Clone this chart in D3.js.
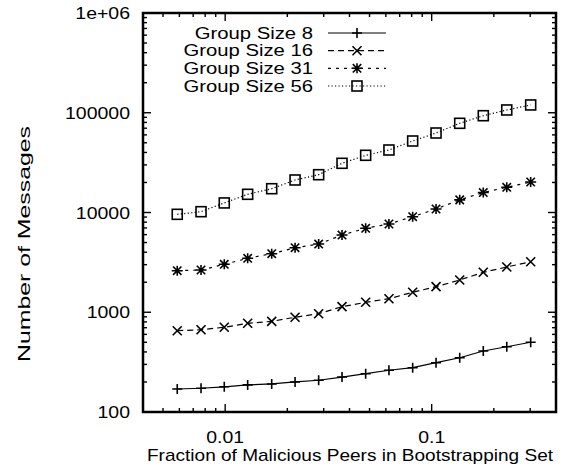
<!DOCTYPE html>
<html><head><meta charset="utf-8">
<script src="https://cdn.jsdelivr.net/npm/d3@7"></script>
<style>
html,body{margin:0;padding:0;background:#fff;}
svg{display:block;}
text{font-family:"Liberation Sans",Arial,Helvetica,sans-serif;fill:#000;}
</style></head>
<body>
<svg id="chart" width="578" height="470"></svg>
<script>
const fractions = [0.00586,0.00764,0.0099,0.01285,0.0168,0.0218,0.02836,0.0368,0.0479,0.0621,0.0809,0.105,0.1367,0.1778,0.231,0.3016];
const group8  = [170,173,179,187,191,200,208,224,242,262,278,312,350,409,451,500];
const group16 = [653,668,707,775,811,890,967,1137,1258,1367,1585,1804,2106,2515,2842,3212];
const group31 = [2610,2652,3025,3474,3863,4437,4831,5946,6944,7668,9078,10842,13385,15850,17890,20220];
const group56 = [9590,10190,12470,15220,17320,21180,23930,31130,37450,42320,52100,62660,78380,93400,106600,119700];
const seriesNames = ["Group Size 8","Group Size 16","Group Size 31","Group Size 56"];
const xTickLabels = ["0.01","0.1"];
const yTickLabels = ["100","1000","10000","100000","1e+06"];

const svg = d3.select("#chart");
const L=143, R=556, T=13, B=412;
const x = d3.scaleLog().domain([0.004,0.4]).range([L,R]);
const y = d3.scaleLog().domain([100,1e6]).range([B,T]);

function stretch(sel, factor){
  sel.each(function(){
    const w = this.getComputedTextLength();
    d3.select(this).attr("textLength", w*factor).attr("lengthAdjust","spacingAndGlyphs");
  });
}

const series = [
  {name:seriesNames[0], vals:group8,  dash:null,     marker:"plus"},
  {name:seriesNames[1], vals:group16, dash:"6,4",    marker:"cross"},
  {name:seriesNames[2], vals:group31, dash:"3,5",    marker:"star"},
  {name:seriesNames[3], vals:group56, dash:"1.2,2.3",marker:"box"}
];

const xMajor = [0.01,0.1];
const xMinor = [];
[0.001,0.01,0.1].forEach(d=>{for(let k=2;k<=9;k++){const v=d*k; if(v>=0.004&&v<=0.4) xMinor.push(v);}});
const yMajor = [100,1000,10000,100000,1e6];
const yMinor = [];
[100,1000,10000,100000].forEach(d=>{for(let k=2;k<=9;k++) yMinor.push(d*k);});

const tk = svg.append("g").attr("stroke","#000").attr("stroke-width",1.4);
xMinor.forEach(v=>{
  tk.append("line").attr("x1",x(v)).attr("x2",x(v)).attr("y1",B).attr("y2",B-4);
  tk.append("line").attr("x1",x(v)).attr("x2",x(v)).attr("y1",T).attr("y2",T+4);
});
xMajor.forEach(v=>{
  tk.append("line").attr("x1",x(v)).attr("x2",x(v)).attr("y1",B).attr("y2",B-8);
  tk.append("line").attr("x1",x(v)).attr("x2",x(v)).attr("y1",T).attr("y2",T+8);
});
yMinor.forEach(v=>{
  tk.append("line").attr("y1",y(v)).attr("y2",y(v)).attr("x1",L).attr("x2",L+4);
  tk.append("line").attr("y1",y(v)).attr("y2",y(v)).attr("x1",R).attr("x2",R-4);
});
yMajor.forEach(v=>{
  tk.append("line").attr("y1",y(v)).attr("y2",y(v)).attr("x1",L).attr("x2",L+8);
  tk.append("line").attr("y1",y(v)).attr("y2",y(v)).attr("x1",R).attr("x2",R-8);
});

svg.append("rect").attr("x",L).attr("y",T).attr("width",R-L).attr("height",B-T)
  .attr("fill","none").attr("stroke","#000").attr("stroke-width",2.5);

const fs = 16.5;
const xt = svg.append("g").selectAll("text").data(xMajor).join("text")
  .attr("x",d=>x(d)).attr("y",B+31).attr("text-anchor","middle").attr("font-size",fs)
  .text((d,i)=>xTickLabels[i]);
stretch(xt, 1.18);
const yt = svg.append("g").selectAll("text").data(yMajor).join("text")
  .attr("x",L-13).attr("y",d=>y(d)+6).attr("text-anchor","end").attr("font-size",fs)
  .text((d,i)=>yTickLabels[i]);
stretch(yt, 1.18);

svg.append("text").attr("x",350).attr("y",461).attr("text-anchor","middle").attr("font-size",17)
  .attr("textLength",406).attr("lengthAdjust","spacingAndGlyphs")
  .text("Fraction of Malicious Peers in Bootstrapping Set");
svg.append("text").attr("transform","translate(30,244) rotate(-90)").attr("text-anchor","middle").attr("font-size",16.5)
  .attr("textLength",236).attr("lengthAdjust","spacingAndGlyphs")
  .text("Number of Messages");

function drawMarker(g,type,cx,cy){
  const s=5;
  if(type==="plus"){
    g.append("path").attr("d",`M${cx-s},${cy}H${cx+s}M${cx},${cy-s}V${cy+s}`);
  } else if(type==="cross"){
    const c=4.5;
    g.append("path").attr("d",`M${cx-c},${cy-c}L${cx+c},${cy+c}M${cx-c},${cy+c}L${cx+c},${cy-c}`);
  } else if(type==="star"){
    const c=4.2;
    g.append("path").attr("d",`M${cx-s-0.5},${cy}H${cx+s+0.5}M${cx},${cy-s}V${cy+s}M${cx-c},${cy-c}L${cx+c},${cy+c}M${cx-c},${cy+c}L${cx+c},${cy-c}`);
  } else if(type==="box"){
    const b=5;
    g.append("rect").attr("x",cx-b).attr("y",cy-b).attr("width",2*b).attr("height",2*b).attr("fill","none");
  }
}

const line = d3.line().x(d=>x(d[0])).y(d=>y(d[1]));
series.forEach(s=>{
  const pts = fractions.map((f,i)=>[f,s.vals[i]]);
  svg.append("path").datum(pts).attr("d",line).attr("fill","none").attr("stroke","#000")
    .attr("stroke-width",1.2).attr("stroke-dasharray",s.dash);
  const g = svg.append("g").attr("stroke","#000").attr("stroke-width",1.6).attr("fill","none");
  pts.forEach(p=>drawMarker(g,s.marker,x(p[0]),y(p[1])));
});

const legY = [33,50.7,68.3,86];
series.forEach((s,i)=>{
  const yy = legY[i];
  const t = svg.append("text").attr("x",313).attr("y",yy+5.7).attr("text-anchor","end").attr("font-size",15.6).text(s.name);
  stretch(t, 1.3);
  svg.append("line").attr("x1",328).attr("x2",386).attr("y1",yy).attr("y2",yy)
    .attr("stroke","#000").attr("stroke-width",1.2).attr("stroke-dasharray",s.dash);
  const g = svg.append("g").attr("stroke","#000").attr("stroke-width",1.6).attr("fill","none");
  drawMarker(g,s.marker,357,yy);
});
</script>
</body></html>
